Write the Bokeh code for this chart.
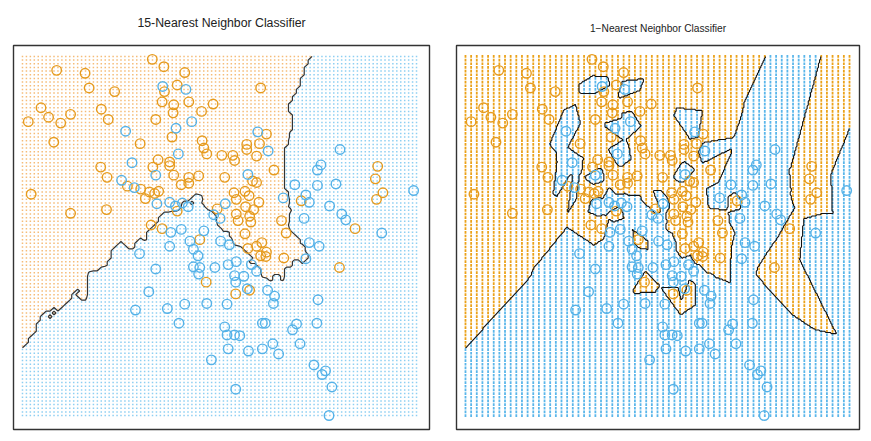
import numpy as np
from bokeh.plotting import figure
from bokeh.layouts import row
from bokeh.models import Range1d
from bokeh.embed import file_html
from bokeh.resources import INLINE

# ---- data (x1, x2) ----
orange_x1 = [-0.36, -2.01, -1.52, -1.45, -1.01, -2.28, -2.15, -1.77, -1.94, -2.50,
             -1.24, -1.12, -0.30, -2.06, -0.57, -1.25, -1.14, -0.35, -0.79, -0.56,
             -0.41, -0.48, -0.32, -2.45, -1.77, -1.15, -0.38, -0.16, 0.20, 0.07,
             -0.15, -0.19, 0.01, 0.00, 0.27, 0.49, 0.69, 1.51, -0.02, 0.50,
             0.53, 0.58, 0.84, 1.03, 1.06, 1.27, 1.27, 1.49, 1.61, 1.44,
             -0.26, -0.06, -0.06, 0.01, 0.27, 0.27, 0.14, 0.44, 0.89, 1.37,
             1.44, 1.74, -0.25, 1.05, 1.09, 1.24, 1.31, 1.48, 1.25, 1.39,
             1.09, 1.12, 1.32, 1.34, 0.76, 0.07, -0.19, 1.87, 1.95, 1.24,
             3.53, 3.49, 3.62, 3.51, 2.21, 3.14, 0.46, 0.57, 1.08, 1.32,
             1.29, 1.44, 1.53, 1.51, 1.61, 1.60, 1.91, 2.87]
orange_x2 = [2.86, 2.71, 2.67, 2.47, 2.42, 2.20, 2.07, 2.11, 1.99, 2.01,
             2.18, 2.04, 2.04, 1.73, 1.71, 1.39, 1.25, 1.39, 1.13, 1.09,
             1.05, 0.96, 1.03, 1.02, 0.76, 0.81, 0.60, 2.76, 2.68, 2.51,
             2.42, 2.28, 2.24, 2.13, 2.28, 2.15, 2.25, 2.47, 1.80, 1.75,
             1.65, 1.57, 1.55, 1.55, 1.48, 1.70, 1.63, 1.71, 1.84, 1.54,
             1.49, 1.46, 1.41, 1.28, 1.25, 1.17, 1.15, 1.27, 1.25, 1.20,
             1.18, 1.35, 1.06, 1.04, 0.95, 1.06, 1.00, 0.91, 0.85, 0.81,
             0.75, 0.66, 0.72, 0.64, 0.82, 0.79, 0.55, 0.66, 0.49, 0.48,
             1.40, 1.23, 1.04, 0.95, 0.93, 0.55, 0.40, -0.18, -0.34, -0.29,
             0.28, 0.31, 0.36, 0.18, 0.23, 0.17, 0.15, 0.02]
blue_x1 = [-0.89, -0.67, -0.82, -0.71, -0.30, -0.28, -0.18, 0.22, 0.32, 0.05,
           1.46, 1.64, 0.09, 1.29, -0.06, 0.16, 0.26, 0.04, 0.70, 0.81,
           0.90, 1.90, -0.04, 0.14, 0.53, 2.10, 2.88, 2.55, 2.49, 2.49,
           2.81, 2.29, 2.35, 2.70, 2.26, 2.91, 2.98, 4.15, 3.60, -0.58,
           -0.30, -0.42, -0.65, -0.06, 0.29, 0.35, 0.43, 0.82, 0.97, 0.35,
           0.46, 0.44, 0.72, 0.95, 1.09, 1.35, 1.06, 1.22, 1.08, 1.44,
           1.28, 1.63, 1.75, 1.73, -0.10, 0.20, 0.58, 0.93, 0.10, 1.54,
           1.59, 0.89, 0.93, 1.06, 1.15, 1.72, 0.95, 1.30, 1.54, 1.82,
           0.66, 1.08, 2.35, 2.52, 2.29, 2.50, 2.48, 2.13, 2.06, 2.19,
           2.43, 2.63, 2.57, 2.74, 2.69]
blue_x2 = [1.21, 1.11, 1.88, 1.45, 1.28, 0.89, 2.49, 2.45, 2.01, 1.92,
           1.87, 1.61, 1.57, 1.29, 0.91, 0.90, 0.85, 0.86, 0.74, 0.69,
           0.89, 0.97, 0.50, 0.54, 0.52, 1.15, 1.63, 1.42, 1.35, 1.14,
           1.16, 1.01, 0.91, 0.86, 0.69, 0.75, 0.67, 1.07, 0.49, 0.21,
           0.00, -0.31, -0.56, 0.31, 0.38, 0.27, 0.18, 0.38, 0.33, 0.03,
           0.02, -0.07, 0.02, 0.06, 0.10, 0.06, -0.09, -0.10, -0.18, -0.03,
           -0.27, -0.29, -0.37, -0.47, -0.54, -0.48, -0.47, -0.48, -0.74, -0.74,
           -0.74, -0.79, -0.90, -0.90, -0.91, -1.02, -1.09, -1.12, -1.09, -1.16,
           -1.24, -1.64, 0.36, 0.31, 0.14, -0.42, -0.74, -0.75, -0.83, -1.02,
           -1.31, -1.39, -1.44, -1.61, -2.00]

titles = ["15-Nearest Neighbor Classifier", "1\u2212Nearest Neighbor Classifier"]
k_values = [15, 1]
x1_lim = [-2.6, 4.2]
x2_lim = [-2.0, 2.9]

X = np.column_stack([np.r_[orange_x1, blue_x1], np.r_[orange_x2, blue_x2]])
cls = np.r_[np.ones(len(orange_x1)), np.zeros(len(blue_x1))]


def knn_prob(gx, gy, k):
    pts = np.column_stack([gx.ravel(), gy.ravel()])
    out = np.empty(len(pts))
    for s in range(0, len(pts), 4000):
        c = pts[s:s + 4000]
        d = ((c[:, None, :] - X[None, :, :]) ** 2).sum(-1)
        idx = np.argpartition(d, k - 1, axis=1)[:, :k]
        out[s:s + 4000] = cls[idx].mean(1)
    return out.reshape(gx.shape)


def panel(k, title, width, mb_left, mb_right, mb_top, mb_bottom, xr, yr,
          nx, dot_w, dot_h, col_or, col_bl, title_size, standoff, bline, bwidth):
    p = figure(width=width, height=441, x_range=Range1d(*xr), y_range=Range1d(*yr),
               min_border_left=mb_left, min_border_right=mb_right,
               min_border_top=mb_top, min_border_bottom=mb_bottom,
               x_axis_location=None, y_axis_location=None,
               toolbar_location=None, output_backend="svg", title=title)
    p.grid.visible = False
    p.outline_line_color = "#333333"
    p.outline_line_width = 1.4
    p.background_fill_color = "white"
    p.border_fill_color = "white"
    p.title.align = "center"
    p.title.vertical_align = "top"
    p.title.text_font = "Liberation Sans"
    p.title.text_font_style = "normal"
    p.title.text_font_size = title_size
    p.title.text_color = "#222222"
    p.title.standoff = standoff

    gxs = np.linspace(x1_lim[0], x1_lim[1], nx)
    gys = np.linspace(x2_lim[0], x2_lim[1], 99)
    GX, GY = np.meshgrid(gxs, gys)
    prob = knn_prob(GX, GY, k)
    colors = np.where(prob.ravel() > 0.5, col_or, col_bl)
    p.rect(x=GX.ravel(), y=GY.ravel(), width=dot_w, height=dot_h,
           width_units="screen", height_units="screen",
           fill_color=colors, line_color=None)

    # boundary
    if k == 1:
        fx = np.linspace(x1_lim[0], x1_lim[1], 341)
        fy = np.linspace(x2_lim[0], x2_lim[1], 297)
        FX, FY = np.meshgrid(fx, fy)
        fz = knn_prob(FX, FY, k)
    else:
        fx, fy, fz = gxs, gys, prob
    p.contour(x=fx, y=fy, z=fz, levels=[0.5], line_color=bline, line_width=bwidth)

    p.scatter(orange_x1, orange_x2, marker="circle", size=9.5, fill_color=None,
              line_color="#E69B1E", line_width=1.4)
    p.scatter(blue_x1, blue_x2, marker="circle", size=9.5, fill_color=None,
              line_color="#55B2E8", line_width=1.4)
    return p


p1 = panel(k_values[0], titles[0], 442, 13, 13, 45, 9, (-2.755, 4.424), (-2.19, 3.049),
           101, 1.5, 1.5, "#F5BC78", "#8ECFF2", "12.3px", 27, "#333333", 1.2)
p2 = panel(k_values[1], titles[1], 429, 14, 12, 43, 12, (-2.759, 4.377), (-2.19, 3.049),
           69, 1.8, 2.7, "#EBA21A", "#5AB6EA", "10.2px", 19, "#111111", 1.1)

layout = row(p1, p2)
open("out.html", "w").write(file_html(layout, INLINE))
